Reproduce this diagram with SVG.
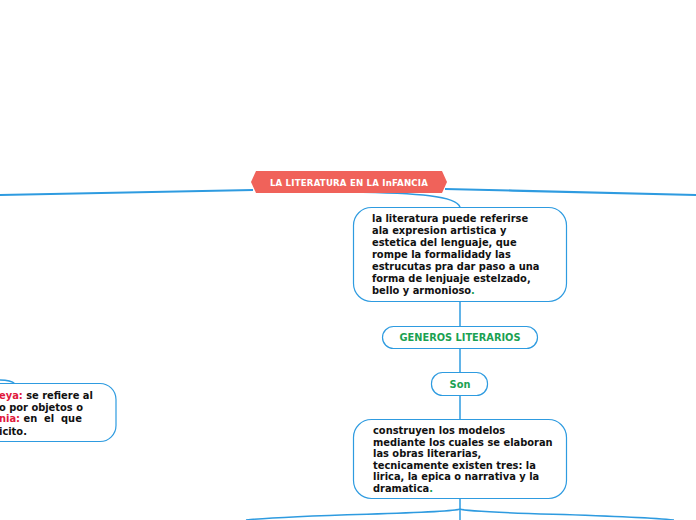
<svg xmlns="http://www.w3.org/2000/svg" width="696" height="520" viewBox="0 0 696 520">
<style>
.box{fill:#fff;stroke:#2E9BE0;stroke-width:1.2}
.ln{fill:none;stroke:#2E9BE0;stroke-width:1.5}
.main{fill:none;stroke:#2E9BE0;stroke-width:2.2}
.t{font-family:"DejaVu Sans",Verdana,sans-serif;font-weight:bold;font-size:9.9px;fill:#111;white-space:pre}
.g{font-family:"DejaVu Sans",Verdana,sans-serif;font-weight:bold;font-size:9.8px;fill:#1AA152}
.r{fill:#E0183C}
.gr{fill:#1AA152}
</style>
<rect width="696" height="520" fill="#fff"/>
<g id="connectors">
<path class="main" d="M253,190 C160,192 80,194 0,195"/>
<path class="main" d="M445,189 C530,191 620,193 696,195"/>
<path class="ln" d="M349,192 C420,193 456,196 460,207"/>
<path class="ln" d="M460,301 V326"/>
<path class="ln" d="M460,348 V372"/>
<path class="ln" d="M460,395 V419"/>
<path class="ln" d="M460,499 V520"/>
<path class="ln" d="M460,509 C450,514 300,514 246,520"/>
<path class="ln" d="M460,509 C470,514 620,514 674,520"/>
<path class="ln" d="M0,380 C8,380 13,382 15,384"/>
</g>
<g id="central">
<polygon points="251,182 256,171 442,171 447,182 442,193 256,193" fill="#F0625A"/>
<text x="349" y="185.5" text-anchor="middle" font-family="'DejaVu Sans',Verdana,sans-serif" font-weight="bold" font-size="8.6px" letter-spacing="0.2" fill="#fff">LA LITERATURA EN LA InFANCIA</text>
</g>
<g id="node-definicion">
<rect class="box" x="353.5" y="207.5" width="213" height="94" rx="18"/>
<text class="t" x="372" y="222">la literatura puede referirse</text>
<text class="t" x="372" y="234">ala expresion artistica y</text>
<text class="t" x="372" y="246">estetica del lenguaje, que</text>
<text class="t" x="372" y="258">rompe la formalidady las</text>
<text class="t" x="372" y="270">estrucutas pra dar paso a una</text>
<text class="t" x="372" y="282">forma de lenjuaje estelzado,</text>
<text class="t" x="372" y="294">bello y armonioso<tspan class="gr">.</tspan></text>
</g>
<g id="node-generos">
<rect class="box" x="382.5" y="326.5" width="155" height="22" rx="11"/>
<text class="g" x="460" y="341" text-anchor="middle">GENEROS LITERARIOS</text>
</g>
<g id="node-son">
<rect class="box" x="431.5" y="372.5" width="56" height="23" rx="11"/>
<text class="g" x="460" y="387.5" text-anchor="middle">Son</text>
</g>
<g id="node-modelos">
<rect class="box" x="353.5" y="419.5" width="213" height="79" rx="18"/>
<text class="t" x="373" y="434">construyen los modelos</text>
<text class="t" x="373" y="445.6">mediante los cuales se elaboran</text>
<text class="t" x="373" y="457.2">las obras literarias,</text>
<text class="t" x="373" y="468.8">tecnicamente existen tres: la</text>
<text class="t" x="373" y="480.4">lirica, la epica o narrativa y la</text>
<text class="t" x="373" y="492">dramatica<tspan class="gr">.</tspan></text>
</g>
<g id="node-figuras">
<rect class="box" x="-40" y="383.5" width="156" height="58" rx="16"/>
<text class="t" x="-1" y="399"><tspan class="r">eya:</tspan> se refiere al</text>
<text class="t" x="-1" y="410.5">o por objetos o</text>
<text class="t" x="-1" y="422"><tspan class="r">nia:</tspan> en  el  que</text>
<text class="t" x="-1" y="434.5">icito.</text>
</g>
</svg>
